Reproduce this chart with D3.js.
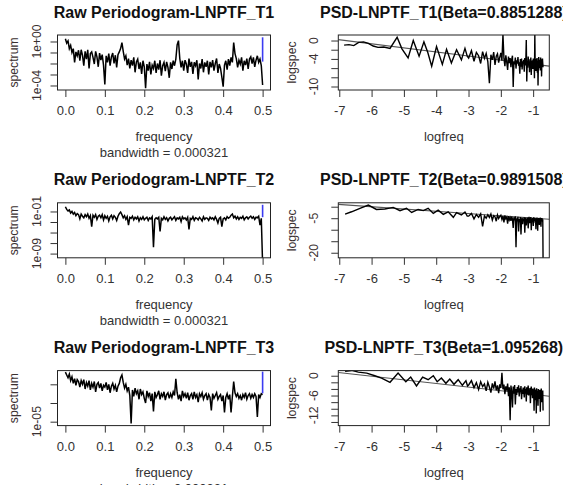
<!DOCTYPE html>
<html>
<head>
<meta charset="utf-8">
<script src="https://cdn.jsdelivr.net/npm/d3@7/dist/d3.min.js"></script>
<style>
    body { margin: 0; background: #fff; }
    svg { display: block; font-family: "Liberation Sans", Arial, sans-serif; }
</style>
</head>
<body>
<svg id="chart" width="563" height="485"></svg>
<script>

// raw periodograms: log10( spectrum ) at frequency i * rawStep
var rawStep = 0.5 / 150;

var rawT1 = [
    0.25, -0.15, 0.05, -0.65, -0.35, -1.0, -0.65, -1.9, -0.95, -1.3,
    -0.8, -1.75, -0.75, -1.25, -2.2, -0.9, -1.6, -0.75, -2.45, -1.1,
    -0.95, -1.45, -2.05, -0.9, -1.4, -2.3, -1.05, -1.7, -1.2, -2.15,
    -3.9, -1.3, -1.9, -1.1, -2.2, -1.4, -1.05, -2.0, -1.25, -2.35,
    -1.2, -0.95, -0.65, -0.1, -0.9, -1.6, -1.3, -2.15, -1.55, -2.45,
    -1.7, -2.2, -1.45, -2.8, -1.85, -1.6, -2.5, -1.9, -2.95, -1.75,
    -2.3, -4.25, -2.05, -2.65, -1.85, -3.0, -2.15, -2.45, -1.75, -2.85,
    -2.0, -2.55, -1.7, -3.1, -2.2, -1.9, -2.7, -1.85, -2.35, -3.3,
    -1.9, -2.5, -1.75, -2.2, -1.6, -0.3, 0.08, -1.55, -2.35, -1.75,
    -2.65, -1.7, -2.05, -2.85, -1.55, -2.3, -1.85, -2.95, -1.9, -2.2,
    -1.7, -3.45, -2.0, -2.45, -1.6, -2.8, -1.9, -2.3, -1.75, -3.0,
    -1.85, -2.35, -1.7, -2.65, -2.0, -1.55, -2.85, -2.05, -2.45, -3.25,
    -4.1, -2.15, -1.75, -2.55, -1.6, -2.2, -1.45, -1.9, -0.1, -1.1,
    -1.55, -2.35, -1.7, -2.05, -1.45, -2.65, -1.75, -2.15, -1.55, -2.5,
    -1.6, -1.4, -2.0, -1.45, -2.3, -1.7, -1.3, -1.9, -1.6, -2.2, -3.95
];

var rawT2 = [
    -0.1, -0.6, -0.9, -0.7, -1.3, -1.0, -1.5, -1.2, -1.8, -1.4,
    -1.6, -2.4, -1.5, -1.9, -2.2, -1.6, -2.0, -1.5, -2.3, -1.8,
    -3.9, -1.7, -2.1, -1.6, -2.5, -1.9, -1.7, -2.2, -1.6, -2.6,
    -1.8, -2.3, -1.9, -2.8, -2.0, -1.7, -2.4, -1.8, -2.1, -2.7,
    -1.9, -1.4, -1.1, -1.6, -2.2, -1.8, -2.5, -2.0, -3.6, -2.1,
    -2.3, -1.9, -2.6, -2.1, -2.4, -2.0, -2.8, -2.2, -2.5, -2.0,
    -2.6, -2.3, -2.1, -2.7, -2.2, -2.4, -2.0, -7.8, -2.5, -2.2,
    -2.4, -2.1, -4.8, -2.3, -2.6, -2.0, -2.5, -2.2, -2.8, -2.3,
    -2.1, -2.6, -2.3, -2.0, -2.7, -2.2, -2.4, -2.1, -2.9, -2.0,
    -2.4, -2.2, -2.6, -2.1, -4.4, -2.3, -2.5, -2.0, -2.7, -2.2,
    -2.3, -2.6, -2.1, -2.4, -2.8, -2.0, -2.5, -2.2, -2.3, -2.7,
    -2.1, -2.4, -2.2, -2.6, -2.0, -2.5, -3.2, -2.3, -2.1, -3.9,
    -2.4, -2.2, -2.6, -2.0, -2.3, -2.1, -1.7, -1.5, -2.2, -1.9,
    -2.4, -2.0, -2.5, -2.1, -2.3, -1.9, -2.6, -2.2, -2.0, -2.4,
    -2.1, -1.9, -2.3, -2.0, -2.5, -2.1, -2.2, -1.9, -3.6, -2.3, -11
];

var rawT3 = [
    0.3, 0.0, -0.3, 0.1, -0.6, -0.2, -0.9, -0.4, -1.1, -0.5,
    -0.7, -1.3, -0.6, -1.0, -0.5, -1.5, -0.8, -1.2, -0.6, -1.6,
    -0.9, -1.3, -0.7, -1.8, -1.0, -0.8, -1.4, -0.9, -1.7, -1.1,
    -1.3, -0.8, -1.6, -1.0, -1.9, -1.2, -0.9, -1.5, -1.1, -1.8,
    -1.2, -0.9, -0.3, 0.0, -0.8, -1.4, -1.0, -1.7, -1.3, -2.2,
    -5.2, -1.6, -2.3, -1.4, -2.0, -1.7, -2.6, -1.5, -2.1, -1.8,
    -2.5, -3.0, -1.7, -2.3, -1.9, -2.8, -2.0, -3.9, -1.8, -2.4,
    -2.1, -1.7, -2.6, -2.0, -2.3, -1.8, -2.7, -2.1, -1.9, -2.5,
    -2.0, -2.4, -1.8, -2.2, -0.4, -1.9, -2.6, -2.1, -2.8, -1.7,
    -2.3, -2.0, -2.5, -1.9, -2.7, -2.2, -2.0, -2.6, -1.8, -2.4,
    -2.1, -2.9, -2.0, -2.3, -1.9, -2.6, -2.2, -2.0, -2.7, -2.1,
    -2.4, -3.8, -2.0, -2.5, -2.2, -1.9, -2.6, -2.3, -2.1, -2.8,
    -2.2, -4.0, -2.4, -2.0, -2.6, -2.1, -4.0, -2.3, -0.7, -1.9,
    -2.3, -2.0, -2.5, -2.2, -2.7, -2.1, -2.4, -1.9, -2.6, -2.2,
    -2.0, -2.5, -2.1, -2.4, -2.0, -2.3, -4.5, -2.1, -2.4, -2.0, -2.1
];

// blue confidence bar at f = 0.5 ( log10 )
var ciUpper = [ 0.38, 0.27, 0.36 ];
var ciLower = [ -1.83, -2.08, -1.96 ];

// log-log spectra, low frequencies ( logfreq, logspec )
var lowFreqT1 = [ -6.85, -6.70, -6.55, -6.40, -6.25, -6.10, -5.95, -5.80, -5.62, -5.43,
    -5.21, -5.06, -4.87, -4.71, -4.53, -4.38, -4.26, -4.14, -3.99, -3.81,
    -3.68, -3.53, -3.37, -3.22, -3.11, -3.04 ];
var lowSpecT1 = [ -1.0, -0.9, -1.1, -0.4, -0.3, -0.6, -1.2, -1.5, -1.4, -1.7,
    0.7, -1.8, -3.8, 0.0, -3.4, -0.3, -2.6, -5.6, -1.3, -5.2,
    -1.9, -4.9, -2.0, -4.2, -1.7, -3.4 ];

var lowFreqT2 = [ -6.82, -6.62, -6.36, -6.10, -5.85, -5.59, -5.33, -5.12, -4.92, -4.76,
    -4.56, -4.40, -4.25, -4.09, -3.94, -3.78, -3.63, -3.47, -3.37, -3.22,
    -3.11, -3.04 ];
var lowSpecT2 = [ -3.2, -2.2, -0.7, 0.7, -1.2, -1.0, -0.3, -1.7, -0.7, -2.5,
    -1.2, -1.7, -0.7, -2.9, -1.5, -3.3, -2.2, -4.6, -2.6, -3.6,
    -2.3, -4.1 ];

var lowFreqT3 = [ -6.82, -6.62, -6.41, -6.15, -5.90, -5.69, -5.43, -5.18, -4.94, -4.79,
    -4.61, -4.42, -4.25, -4.09, -3.97, -3.84, -3.70, -3.58, -3.45, -3.32,
    -3.19, -3.08, -3.03 ];
var lowSpecT3 = [ 1.3, 1.6, 1.1, 0.8, 0.0, -0.7, -2.0, 0.8, -1.8, -0.4,
    -3.1, -0.4, -1.2, 0.0, -1.8, -0.7, -2.3, -1.0, -2.6, -1.2,
    -2.9, -1.5, -3.1 ];

// log-log spectra, higher frequencies: logspec at freq denseStart + j * denseStep
var denseStart = 0.05, denseStep = 0.0045;

var denseT1 = [
    -3.8, -2.2, -4.5, -2.6, -3.3, -5.0, -2.4, -3.9, -2.8, -4.6,
    -9.3, -3.1, -4.2, -2.5, -5.3, -3.4, -2.9, -4.8, -3.6, -2.7,
    -4.4, 1.4, -3.9, -5.6, -3.2, -4.7, -6.4, -3.5, -4.9, -3.8,
    -5.8, -4.1, -3.3, -10.1, -4.6, -5.2, -3.7, -6.1, -4.3, -5.0,
    -3.6, -5.5, -4.8, -7.2, -4.0, -5.7, -3.9, -6.3, -4.5, -5.1,
    -4.2, -6.8, -3.8, -5.4, -4.7, 0.1, -8.9, -4.4, -5.9, -3.5,
    -5.3, -4.6, -6.9, -4.1, -5.6, -3.7, -7.5, -4.8, -5.0, -4.3,
    -6.2, -3.9, -5.5, -4.6, -8.2, 1.5, -5.8, -4.0, -6.6, -4.9,
    -5.2, -3.8, -7.0, -4.4, -9.8, -5.1, -3.6, -6.0, -4.7, -5.4,
    -4.2, -6.5, -3.7, -5.3, -4.5, -7.8, -4.1, -5.6, -3.9, -5.0,
    -5.8
];

var denseT2 = [
    -4.1, -2.9, -5.3, -3.4, -4.6, -3.1, -8.6, -4.0, -5.0, -3.5,
    -4.7, -3.2, -5.8, -3.9, -4.4, -6.3, -3.6, -5.1, -4.2, -3.7,
    -5.5, -4.0, -6.8, -3.8, -5.2, -4.5, -7.4, -4.1, -5.7, -4.8,
    -6.1, -4.3, -5.4, -9.2, -4.6, -5.9, -4.2, -17.6, -5.0, -6.4,
    -4.4, -10.8, -5.3, -6.7, -4.5, -12.1, -5.8, -4.9, -7.6, -5.1,
    -6.2, -4.6, -11.3, -5.5, -4.8, -8.1, -5.2, -6.5, -4.7, -9.4,
    -5.6, -4.4, -7.2, -5.0, -6.0, -4.5, -10.2, -5.4, -6.3, -4.9,
    -5.7, -8.4, -4.6, -6.1, -5.3, -4.8, -7.0, -5.5, -9.8, -5.0,
    -6.2, -4.7, -5.8, -10.4, -5.1, -6.6, -4.9, -5.6, -7.9, -5.2,
    -6.0, -4.8, -5.4, -8.7, -5.3, -6.4, -4.9, -5.7, -6.1, -5.5,
    -23
];

var denseT3 = [
    -2.8, -1.5, -3.6, -2.1, -4.2, -1.8, -3.3, -2.5, -4.6, -2.0,
    -3.4, -5.1, -2.3, -3.9, -1.7, -4.4, -2.9, -5.3, -2.6, -3.7,
    0.9, -4.1, -2.7, -5.6, -3.2, -4.5, -2.4, -6.2, -3.5, -13.5,
    -3.0, -4.8, -9.6, -3.3, -5.4, -2.8, -8.7, -4.0, -5.8, -3.4,
    -4.9, -2.9, -6.3, -3.8, -5.0, -3.1, -7.1, -4.2, -5.5, -3.6,
    -4.7, -6.6, -3.2, -5.2, -4.0, -7.8, -3.5, -5.7, -4.4, -3.0,
    -6.0, -4.3, -5.1, -3.7, -8.3, -4.6, -3.3, -5.9, -4.1, -6.8,
    -3.9, -5.3, -4.5, -10.6, -3.6, -5.6, -4.2, -7.4, -4.8, -11.4,
    -3.8, -6.1, -4.6, -5.2, -9.1, -4.0, -5.8, -4.9, -7.0, -4.3,
    -5.5, -10.9, -4.4, -6.2, -3.9, -5.7, -8.0, -4.7, -5.3, -4.5,
    -10.5
];

// fitted lines: logspec = intercept - beta * logfreq
var seriesNames = [ 'LNPTF_T1', 'LNPTF_T2', 'LNPTF_T3' ];
var betaLabels = [ '0.8851288', '0.9891508', '1.095268' ];
var betaValues = [ 0.8851288, 0.9891508, 1.095268 ];
var fitIntercepts = [ -6.02, -5.95, -6.74 ];
var bandwidth = '0.000321';

// ticks
var freqTicks = [ 0, 0.1, 0.2, 0.3, 0.4, 0.5 ];
var logfreqTicks = [ -7, -6, -5, -4, -3, -2, -1 ];
var spectrumTicks = [ [ 0, -1, -2, -3, -4 ], [ -1, -3, -5, -7, -9 ], [ -1, -3, -5 ] ];
var spectrumLabels = [ [ 0, -4 ], [ -1, -9 ], [ -5 ] ];
var logspecTicks = [ [ 0, -2, -4, -6, -8, -10 ], [ 0, -5, -10, -15, -20 ], [ 0, -2, -4, -6, -8, -10, -12, -14 ] ];
var logspecLabels = [ [ 0, -4, -10 ], [ -5, -20 ], [ 0, -6, -12 ] ];


var svg = d3.select('#chart');

var leftBox = [ 57.5, 270.5 ],
    rightBox = [ 338.3, 549.3 ],
    rowTop = [ 35, 202.8, 370.6 ],
    boxH = 55;

// visible axis ranges ( log10 for the raw panels )
var rawDomain = [ [ -4.41, 0.59 ], [ -9.8, 0.65 ], [ -5.42, 0.47 ] ];
var logDomain = [ [ -10.76, 1.2 ], [ -22.2, 1.7 ], [ -15.1, 1.55 ] ];

function expLabel ( e ) {

    var a = Math.abs( e );
    return '1e' + ( e < 0 ? '-' : '+' ) + ( a < 10 ? '0' : '' ) + a;

}

function pow10 ( e ) { return Math.pow( 10, e ); }

function styleAxis ( axis ) {

    axis.select('.domain').remove();
    axis.style('color', '#333');
    axis.selectAll('text')
        .style('font-size', '13px')
        .style('font-family', '"Liberation Sans", Arial, sans-serif')
        .style('fill', '#333');

}

function frame ( g, x0, x1, top, clipId ) {

    g.append('clipPath')
        .attr('id', clipId)
        .append('rect')
        .attr('x', x0)
        .attr('y', top)
        .attr('width', x1 - x0)
        .attr('height', boxH);

}

function box ( g, x0, x1, top ) {

    g.append('rect')
        .attr('x', x0)
        .attr('y', top)
        .attr('width', x1 - x0)
        .attr('height', boxH)
        .style('fill', 'none')
        .style('stroke', '#222')
        .style('stroke-width', 1);

}

function rotatedText ( g, x, y, size, txt, color ) {

    g.append('text')
        .attr('transform', 'translate(' + x + ',' + y + ') rotate(-90)')
        .attr('text-anchor', 'middle')
        .style('font-size', size + 'px')
        .style('fill', color)
        .text( txt );

}

function title ( g, cx, baseline, txt ) {

    g.append('text')
        .attr('x', cx)
        .attr('y', baseline)
        .attr('text-anchor', 'middle')
        .style('font-size', '16px')
        .style('font-weight', 'bold')
        .style('fill', '#111')
        .text( txt );

}

// raw periodogram ( left column )

function drawRaw ( r, values ) {

    var top = rowTop[ r ],
        bottom = top + boxH;

    var x = d3.scaleLinear()
        .domain([ -0.02, 0.52 ])
        .range( leftBox );

    var y = d3.scaleLog()
        .domain([ pow10( rawDomain[ r ][ 0 ] ), pow10( rawDomain[ r ][ 1 ] ) ])
        .range([ bottom, top ]);

    var g = svg.append('g');
    var clipId = 'clip-raw-' + r;

    frame( g, leftBox[ 0 ], leftBox[ 1 ], top, clipId );

    var line = d3.line()
        .x( function ( d, i ) { return x( i * rawStep ); })
        .y( function ( d ) { return y( pow10( d ) ); });

    g.append('path')
        .datum( values )
        .attr('d', line)
        .attr('clip-path', 'url(#' + clipId + ')')
        .style('fill', 'none')
        .style('stroke', '#000')
        .style('stroke-width', 1.5);

    g.append('line')
        .attr('x1', x( 0.5 ))
        .attr('x2', x( 0.5 ))
        .attr('y1', y( pow10( ciUpper[ r ] ) ))
        .attr('y2', y( pow10( ciLower[ r ] ) ))
        .style('stroke', '#3c3cf2')
        .style('stroke-width', 1.6);

    box( g, leftBox[ 0 ], leftBox[ 1 ], top );

    var xAxis = g.append('g')
        .attr('transform', 'translate(0,' + bottom + ')')
        .call( d3.axisBottom( x )
            .tickValues( freqTicks )
            .tickFormat( d3.format('.1f') )
            .tickSize( 7 )
            .tickPadding( 9 ) );

    styleAxis( xAxis );

    var yAxis = g.append('g')
        .attr('transform', 'translate(' + leftBox[ 0 ] + ',0)')
        .call( d3.axisLeft( y )
            .tickValues( spectrumTicks[ r ].map( pow10 ) )
            .tickFormat( function () { return ''; })
            .tickSize( 7 ) );

    styleAxis( yAxis );

    spectrumLabels[ r ].forEach( function ( e ) {

        rotatedText( g, 40.6, y( pow10( e ) ), 12.2, expLabel( e ), '#3a3030' );

    });

    rotatedText( g, 18, ( top + bottom ) / 2, 12.2, 'spectrum', '#3a3030' );

    title( g, ( leftBox[ 0 ] + leftBox[ 1 ] ) / 2, top - 17.5, 'Raw Periodogram-' + seriesNames[ r ] );

    g.append('text')
        .attr('x', ( leftBox[ 0 ] + leftBox[ 1 ] ) / 2)
        .attr('y', bottom + 51)
        .attr('text-anchor', 'middle')
        .style('font-size', '13px')
        .style('fill', '#333')
        .text('frequency');

    g.append('text')
        .attr('x', ( leftBox[ 0 ] + leftBox[ 1 ] ) / 2)
        .attr('y', bottom + 67.4)
        .attr('text-anchor', 'middle')
        .style('font-size', '13px')
        .style('fill', '#333')
        .text('bandwidth = ' + bandwidth);

}

// log-log spectrum with fitted slope ( right column )

function drawPsd ( r, lowFreq, lowSpec, dense ) {

    var top = rowTop[ r ],
        bottom = top + boxH;

    var x = d3.scaleLinear()
        .domain([ -7.03, -0.5 ])
        .range( rightBox );

    var y = d3.scaleLinear()
        .domain( logDomain[ r ] )
        .range([ bottom, top ]);

    var points = lowFreq.map( function ( f, i ) { return [ f, lowSpec[ i ] ]; });

    dense.forEach( function ( v, j ) {

        points.push([ Math.log( denseStart + j * denseStep ), v ]);

    });

    var g = svg.append('g');
    var clipId = 'clip-psd-' + r;

    frame( g, rightBox[ 0 ], rightBox[ 1 ], top, clipId );

    var line = d3.line()
        .x( function ( d ) { return x( d[ 0 ] ); })
        .y( function ( d ) { return y( d[ 1 ] ); });

    var fit = x.domain().map( function ( f ) {

        return [ f, fitIntercepts[ r ] - betaValues[ r ] * f ];

    });

    g.append('path')
        .datum( fit )
        .attr('d', line)
        .attr('clip-path', 'url(#' + clipId + ')')
        .style('fill', 'none')
        .style('stroke', '#555')
        .style('stroke-width', 1.1);

    g.append('path')
        .datum( points )
        .attr('d', line)
        .attr('clip-path', 'url(#' + clipId + ')')
        .style('fill', 'none')
        .style('stroke', '#000')
        .style('stroke-width', 1.4);

    box( g, rightBox[ 0 ], rightBox[ 1 ], top );

    var xAxis = g.append('g')
        .attr('transform', 'translate(0,' + bottom + ')')
        .call( d3.axisBottom( x )
            .tickValues( logfreqTicks )
            .tickFormat( function ( d ) { return String( d ); })
            .tickSize( 7 )
            .tickPadding( 9 ) );

    styleAxis( xAxis );

    var yAxis = g.append('g')
        .attr('transform', 'translate(' + rightBox[ 0 ] + ',0)')
        .call( d3.axisLeft( y )
            .tickValues( logspecTicks[ r ] )
            .tickFormat( function () { return ''; })
            .tickSize( 7 ) );

    styleAxis( yAxis );

    logspecLabels[ r ].forEach( function ( v ) {

        rotatedText( g, 317.6, y( v ), 12.2, String( v ), '#3a3030' );

    });

    rotatedText( g, 296, ( top + bottom ) / 2, 12.2, 'logspec', '#3a3030' );

    title( g, ( rightBox[ 0 ] + rightBox[ 1 ] ) / 2, top - 17.5,
        'PSD-' + seriesNames[ r ] + '(Beta=' + betaLabels[ r ] + ')' );

    g.append('text')
        .attr('x', ( rightBox[ 0 ] + rightBox[ 1 ] ) / 2)
        .attr('y', bottom + 51)
        .attr('text-anchor', 'middle')
        .style('font-size', '13px')
        .style('fill', '#333')
        .text('logfreq');

}

drawRaw( 0, rawT1 );
drawRaw( 1, rawT2 );
drawRaw( 2, rawT3 );

drawPsd( 0, lowFreqT1, lowSpecT1, denseT1 );
drawPsd( 1, lowFreqT2, lowSpecT2, denseT2 );
drawPsd( 2, lowFreqT3, lowSpecT3, denseT3 );

</script>
</body>
</html>
